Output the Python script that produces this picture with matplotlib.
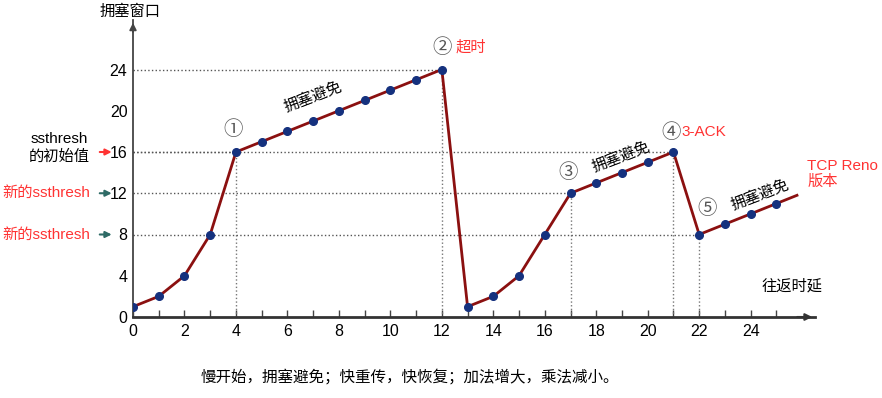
import matplotlib.pyplot as plt

plt.rcParams['font.family'] = ['Liberation Sans', 'Noto Sans CJK SC', 'DejaVu Sans']

# 传输轮次 / 拥塞窗口
rounds = [0, 1, 2, 3, 4, 5, 6, 7, 8, 9, 10, 11, 12,
          13, 14, 15, 16, 17, 18, 19, 20, 21, 22, 23, 24, 25]
cwnd = [1, 2, 4, 8, 16, 17, 18, 19, 20, 21, 22, 23, 24,
        1, 2, 4, 8, 12, 13, 14, 15, 16, 8, 9, 10, 11]
# line keeps going after the last point
tail_x = [25, 25.8]
tail_y = [11, 11.8]

xticks = [0, 2, 4, 6, 8, 10, 12, 14, 16, 18, 20, 22, 24]
yticks = [0, 4, 8, 12, 16, 20, 24]

# dotted guide lines: (x, y) corner points
guides = [(4, 16), (12, 24), (17, 12), (21, 16), (22, 8)]

RED = '#ff3333'
LINE = '#8b1010'
DOT = '#15317e'

fig = plt.figure(figsize=(8.82, 3.98), dpi=100)
ax = fig.add_axes([133 / 882, 81 / 398, (815 - 133) / 882, (317 - 20) / 398])
ax.set_xlim(0, 26.5)
ax.set_ylim(0, 28.8)

for s in ['top', 'right']:
    ax.spines[s].set_visible(False)
ax.spines['bottom'].set_color('#333333')
ax.spines['bottom'].set_linewidth(2)
ax.spines['left'].set_color('#444444')
ax.spines['left'].set_linewidth(1.3)

# axis arrows
ax.annotate('', xy=(1.0, 0), xytext=(0.97, 0), xycoords='axes fraction',
            arrowprops=dict(arrowstyle='-|>', color='#333333', lw=1.5,
                            mutation_scale=10))
ax.annotate('', xy=(0, 1.0), xytext=(0, 0.95), xycoords='axes fraction',
            arrowprops=dict(arrowstyle='-|>', color='#444444', lw=1.3,
                            mutation_scale=10))

# guide lines
for gx, gy in guides:
    ax.plot([0, gx], [gy, gy], ls=':', color='#555555', lw=1)
    ax.plot([gx, gx], [0, gy], ls=':', color='#777777', lw=1)

ax.plot(rounds, cwnd, color=LINE, lw=2, zorder=3)
ax.plot(tail_x, tail_y, color=LINE, lw=2, zorder=3)
ax.plot(rounds, cwnd, 'o', color=DOT, ms=5.5, zorder=4)

ax.set_xticks(range(0, 26), minor=True)
ax.set_xticks(xticks)
ax.set_yticks(yticks)
ax.tick_params(axis='x', which='both', direction='in', length=5, width=1,
               color='#444444', labelsize=11.5, pad=5)
ax.tick_params(axis='y', length=0, labelsize=11.5, pad=4)

# circled markers
circ = dict(fontsize=14, color='#555555', ha='center', va='center')
ax.text(3.9, 18.2, '①', **circ)
ax.text(12.0, 26.1, '②', **circ)
ax.text(16.9, 14.0, '③', **circ)
ax.text(20.9, 17.9, '④', **circ)
ax.text(22.3, 10.5, '⑤', **circ)
ax.text(12.55, 26.1, '超时', color=RED, fontsize=11, va='center', ha='left')
ax.text(21.3, 17.9, '3-ACK', color=RED, fontsize=11, va='center', ha='left')

# 拥塞避免 labels along the line
ax.text(7.0, 21.3, '拥塞避免', rotation=21, fontsize=11, ha='center', va='center')
ax.text(18.95, 15.5, '拥塞避免', rotation=21, fontsize=11, ha='center', va='center')
ax.text(24.35, 11.8, '拥塞避免', rotation=21, fontsize=11, ha='center', va='center')

ax.text(26.2, 13.9, 'TCP Reno\n版本', color=RED, fontsize=11, ha='left',
        va='center', linespacing=1.2, clip_on=False)
ax.text(25.6, 3.0, '往返时延', fontsize=11, ha='center', va='center')

# left side ssthresh notes
ax.annotate('', xy=(-0.72, 16), xytext=(-1.4, 16),
            arrowprops=dict(arrowstyle='-|>', color=RED, lw=1.5,
                            mutation_scale=9), annotation_clip=False)
ax.annotate('', xy=(-0.72, 12), xytext=(-1.4, 12),
            arrowprops=dict(arrowstyle='-|>', color='#2e6b66', lw=1.5,
                            mutation_scale=9), annotation_clip=False)
ax.annotate('', xy=(-0.72, 8), xytext=(-1.4, 8),
            arrowprops=dict(arrowstyle='-|>', color='#2e6b66', lw=1.5,
                            mutation_scale=9), annotation_clip=False)
ax.text(-2.85, 16.4, 'ssthresh\n的初始值', fontsize=11, ha='center',
        va='center', linespacing=1.3, clip_on=False)
ax.text(-1.65, 12, '新的ssthresh', color=RED, fontsize=11, ha='right',
        va='center', clip_on=False)
ax.text(-1.65, 8, '新的ssthresh', color=RED, fontsize=11, ha='right',
        va='center', clip_on=False)

fig.text(130 / 882, (398 - 12) / 398, '拥塞窗口', fontsize=11, ha='center',
         va='center')
fig.text(410 / 882, (398 - 377) / 398,
         '慢开始，拥塞避免；快重传，快恢复；加法增大，乘法减小。',
         fontsize=11.2, ha='center', va='center')

fig.savefig('out.png', dpi=100)
